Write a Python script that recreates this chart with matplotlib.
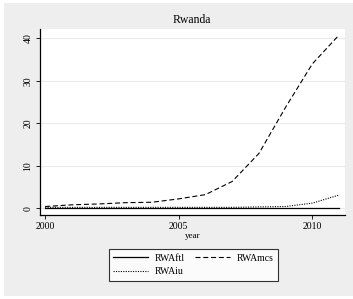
import matplotlib
matplotlib.use("Agg")
import matplotlib.pyplot as plt
from matplotlib.patches import Rectangle

# data
years = [2000, 2001, 2002, 2003, 2004, 2005, 2006, 2007, 2008, 2009, 2010, 2011]
rwa_ftl = [0.1, 0.1, 0.1, 0.1, 0.1, 0.1, 0.1, 0.1, 0.1, 0.1, 0.1, 0.1]
rwa_mcs = [0.4, 0.8, 1.0, 1.3, 1.4, 2.2, 3.2, 6.3, 12.9, 23.8, 34.0, 40.8]
rwa_iu = [0.2, 0.2, 0.2, 0.2, 0.2, 0.2, 0.2, 0.2, 0.3, 0.4, 1.2, 3.1]
xticks = [2000, 2005, 2010]
yticks = [0, 10, 20, 30, 40]

plt.rcParams['font.family'] = ['Liberation Serif', 'DejaVu Serif']

W, H = 353, 299
fig = plt.figure(figsize=(W / 100, H / 100), dpi=100, facecolor='white')
bg = '#eeeeee'
fig.patches.append(Rectangle((4 / W, 3 / H), (W - 4) / W, (H - 6) / H,
                             transform=fig.transFigure, facecolor=bg,
                             edgecolor='none', zorder=-10))

# axes: left 39.5, right 345, top 29, bottom 215 (pixels)
ax = fig.add_axes([39.5 / W, 1 - 215 / H, (345 - 39.5) / W, (215 - 29) / H])
ax.set_zorder(1)
ax.set_facecolor('white')

l_ftl, = ax.plot(years, rwa_ftl, color='black', lw=0.9, ls='-', label='RWAftl')
l_mcs, = ax.plot(years, rwa_mcs, color='black', lw=0.8, ls=(0, (4.5, 2.5)), label='RWAmcs')
l_iu, = ax.plot(years, rwa_iu, color='black', lw=0.8, ls=(0, (1, 1.2)), label='RWAiu')

ax.set_xlim(1999.79, 2011.22)
ax.set_ylim(-1.6, 42.2)
ax.set_xticks(xticks)
ax.set_yticks(yticks)
ax.set_yticklabels([str(v) for v in yticks], rotation=90, va='center')
ax.tick_params(labelsize=7, length=3, width=0.6, pad=2)
ax.grid(axis='y', color='#ebebeb', lw=0.8)
ax.set_axisbelow(True)

for side in ['top', 'right']:
    ax.spines[side].set_visible(False)
ax.spines['left'].set_linewidth(0.9)
ax.spines['bottom'].set_linewidth(0.9)

ax.set_xlabel('year', fontsize=6.5, labelpad=1)
ax.set_title('Rwanda', fontsize=8.5, pad=4)

# column-major order so row 1 is ftl / mcs, row 2 is iu
leg = fig.legend([l_ftl, l_iu, l_mcs], ['RWAftl', 'RWAiu', 'RWAmcs'],
                 loc='center', bbox_to_anchor=(193.5 / W, 1 - 265 / H), ncol=2,
                 fontsize=7, frameon=True, fancybox=False, handlelength=3.6,
                 columnspacing=1.0, handletextpad=0.7, borderpad=0.45,
                 borderaxespad=0, labelspacing=0.45)
leg.get_frame().set_edgecolor('black')
leg.get_frame().set_linewidth(0.8)
leg.set_zorder(2)

fig.savefig('out.png', dpi=100, facecolor=fig.get_facecolor())
